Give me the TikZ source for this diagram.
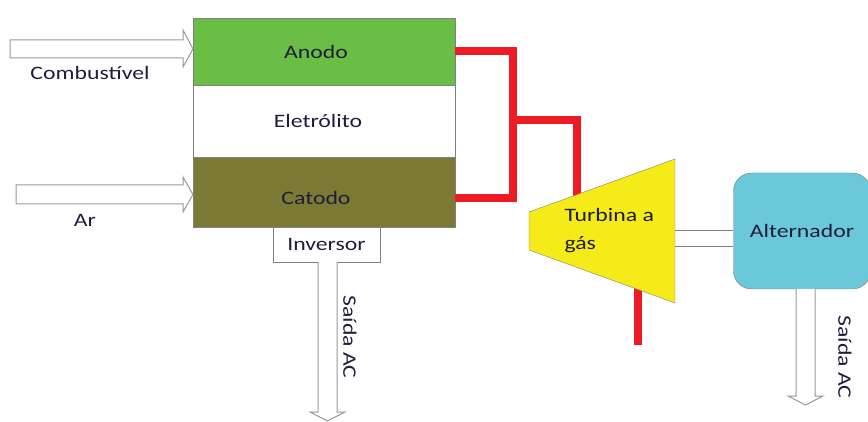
\documentclass[tikz,border=0pt]{standalone}
\usepackage{fontspec}
\setmainfont{Carlito}[FakeStretch=1.25]
\definecolor{anodo}{RGB}{106,189,69}
\definecolor{catodo}{RGB}{122,122,52}
\definecolor{turbina}{RGB}{245,235,25}
\definecolor{alternador}{RGB}{107,200,218}
\definecolor{fio}{RGB}{237,28,36}
\definecolor{texto}{RGB}{30,30,60}
\begin{document}
\begin{tikzpicture}[
x=1pt, y=-1pt,
every node/.style={
font=\fontsize{19}{28}\selectfont,
text=texto
},
camada/.style={draw=gray, minimum width=262pt, inner sep=0pt},
seta/.style={draw=gray!80, fill=white, line width=1pt},
fiovermelho/.style={draw=fio, line width=8pt},
eixo/.style={draw=gray, line width=1pt}
]

\useasboundingbox (0,0) rectangle (868,422);

% pilha de combustivel
\node[camada, fill=anodo, minimum height=67pt,
label={[xshift=-8pt]center:Anodo}] (Anodo) at (324,51.5) {};

\node[camada, fill=white, minimum height=72pt,
label={[xshift=-6pt]center:Eletrólito}] (Eletrolito) at (324,121) {};

\node[camada, fill=catodo, minimum height=70pt,
label={[xshift=-8pt, yshift=-6pt]center:Catodo}] (Catodo) at (324,192) {};

\node[draw=gray, minimum width=107pt, minimum height=35pt] (Inversor) at (326.5,244.5)
{Inversor};

% entradas
\draw[seta] (10,40) -- (183,40) -- (183,30) -- (193,49) -- (183,67)
-- (183,58) -- (10,58) -- cycle;
\draw[seta] (16,185) -- (183,185) -- (183,177) -- (193,194.5) -- (183,212)
-- (183,204) -- (16,204) -- cycle;

\node (Combustivel) at (90,73) {Combustível};
\node (Ar) at (85,220) {Ar};

% ligacoes vermelhas
\draw[fiovermelho] (Anodo.east) -- (513,51.5) -- (513,198) -- (455,198);
\draw[fiovermelho] (513,120) -- (577,120) -- (577,197);
\draw[fiovermelho] (638,288) -- (638,345);

% turbina
\draw[fill=turbina, draw=gray] (529,212) -- (675,159) -- (675,303)
-- (529,250) -- cycle;
\node[align=left, anchor=west] (Turbina) at (561,231)
{Turbina a\\gás};

% alternador
\node[draw=gray, fill=alternador, rounded corners=18pt,
minimum width=137pt, minimum height=116pt] (Alternador) at (802,231)
{Alternador};

\draw[eixo] (675,231) -- (733,231);
\draw[eixo] (675,247) -- (733,247);

% saidas
\draw[seta] (318,262) -- (318,412) -- (310,412) -- (327.5,421)
-- (345,412) -- (337,412) -- (337,262);
\draw[seta] (796,289) -- (796,396) -- (788,396) -- (805.5,405)
-- (823,396) -- (815,396) -- (815,289);

\node[rotate=-90] (Saida1) at (350,337) {Saída AC};
\node[rotate=-90] (Saida2) at (845,357) {Saída AC};

\end{tikzpicture}
\end{document}
